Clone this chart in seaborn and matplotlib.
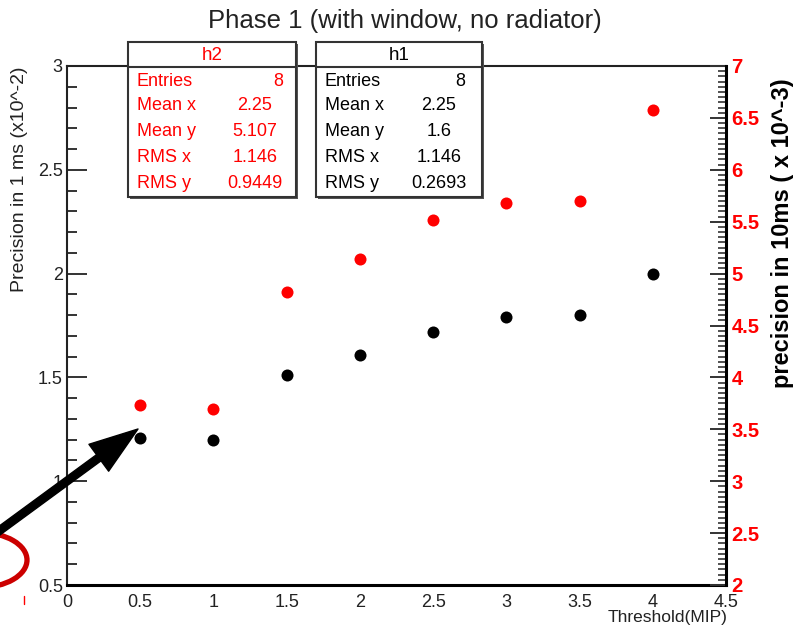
import matplotlib
matplotlib.use("Agg")
import matplotlib.pyplot as plt
import seaborn as sns
import numpy as np
from matplotlib.ticker import MultipleLocator, FuncFormatter
from matplotlib.patches import Rectangle, Ellipse

# data
threshold = [0.5, 1.0, 1.5, 2.0, 2.5, 3.0, 3.5, 4.0]
prec_1ms = [1.21, 1.20, 1.51, 1.61, 1.72, 1.79, 1.80, 2.00]      # black, left axis
prec_10ms = [3.73, 3.70, 4.82, 5.14, 5.52, 5.68, 5.70, 6.58]     # red, right axis

stat_names = ['Entries', 'Mean x', 'Mean y', 'RMS x', 'RMS y']
h1_values = ['8', '2.25', '1.6', '1.146', '0.2693']
h2_values = ['8', '2.25', '5.107', '1.146', '0.9449']

title = 'Phase 1 (with window, no radiator)'

sns.set_style('white')
plt.rcParams['font.family'] = ['Liberation Sans', 'DejaVu Sans']

W, H = 795, 631
fig = plt.figure(figsize=(W / 100, H / 100), dpi=100)
ax = fig.add_axes([67 / W, (H - 585) / H, 659 / W, 519 / H])
ax2 = ax.twinx()

sns.scatterplot(x=threshold, y=prec_1ms, ax=ax, color='black', s=75, linewidth=0, zorder=3)
sns.scatterplot(x=threshold, y=prec_10ms, ax=ax2, color='red', s=75, linewidth=0, zorder=3)

fmt = FuncFormatter(lambda v, p: '%g' % round(v, 3))

ax.set_xlim(0, 4.5)
ax.set_ylim(0.5, 3)
ax2.set_ylim(2, 7)

ax.xaxis.set_major_locator(MultipleLocator(0.5))
ax.xaxis.set_minor_locator(MultipleLocator(0.1))
ax.yaxis.set_major_locator(MultipleLocator(0.5))
ax.yaxis.set_minor_locator(MultipleLocator(0.1))
ax2.yaxis.set_major_locator(MultipleLocator(0.5))
ax2.yaxis.set_minor_locator(MultipleLocator(0.05))
ax.xaxis.set_major_formatter(fmt)
ax.yaxis.set_major_formatter(fmt)
ax2.yaxis.set_major_formatter(fmt)

tc = '#333333'
ax.tick_params(axis='y', which='major', direction='in', length=14.5, width=1.4, color=tc,
               labelsize=13, pad=3, right=False, labelcolor='#222222')
ax.tick_params(axis='y', which='minor', direction='in', length=7, width=1.4, color=tc, right=False)
ax.tick_params(axis='x', which='major', direction='in', length=11, width=1.4, color=tc,
               labelsize=13, pad=6.5, top=False, labelcolor='#222222')
ax.tick_params(axis='x', which='minor', direction='in', length=5, width=1.4, color=tc, top=False)
ax2.tick_params(axis='y', which='major', direction='in', length=11.5, width=1.4, color=tc,
                labelsize=14.5, labelcolor='red', pad=4)
ax2.tick_params(axis='y', which='minor', direction='in', length=5.8, width=1.2, color=tc)
plt.setp(ax2.get_yticklabels(), fontweight='bold')

for s in ['top', 'left']:
    ax.spines[s].set_color('#222222')
    ax.spines[s].set_linewidth(1.5)
ax.spines['bottom'].set_color('black')
ax.spines['bottom'].set_linewidth(2.2)
ax2.spines['right'].set_color('black')
ax2.spines['right'].set_linewidth(2.2)
for s in ['top', 'left', 'bottom']:
    ax2.spines[s].set_visible(False)
ax.spines['right'].set_visible(False)

ax.set_xlabel('Threshold(MIP)', fontsize=12.5, ha='right', color='#222222')
ax.xaxis.set_label_coords((728 - 67) / 659, (585 - 610) / 519)
ax.set_ylabel('Precision in 1 ms (x10^-2)', fontsize=14, color='#222222')
ax.yaxis.set_label_coords((28 - 67) / 659, (585 - 179) / 519)
ax2.set_ylabel('precision in 10ms ( x 10^-3)', fontsize=17, fontweight='bold', color='black')
ax2.yaxis.set_label_coords((771 - 67) / 659, (585 - 233) / 519)

fig.text(405 / W, 1 - 21 / H, title, ha='center', va='center', fontsize=18.5, color='#222222')

# overlay in pixel units for stat boxes and hand drawn marks
ov = fig.add_axes([0, 0, 1, 1], zorder=10)
ov.set_xlim(0, W)
ov.set_ylim(H, 0)
ov.axis('off')
ov.patch.set_alpha(0)


def stat_box(x0, x1, name, values, color, val_center, val_right):
    y0, y1 = 42, 197
    ov.add_patch(Rectangle((x0 + 2, y0 + 2), x1 - x0, y1 - y0, fc='#555555', ec='none'))
    ov.add_patch(Rectangle((x0, y0), x1 - x0, y1 - y0, fc='white', ec='#333333', lw=1.5))
    ov.plot([x0, x1], [67, 67], color='#333333', lw=1.5)
    ov.text((x0 + x1) / 2, 55, name, ha='center', va='center', fontsize=13.5, color=color)
    rows = [81, 106, 132, 157, 183]
    for i, (lab, val) in enumerate(zip(stat_names, values)):
        ov.text(x0 + 9, rows[i], lab, ha='left', va='center', fontsize=13, color=color)
        if i == 0:
            ov.text(val_right, rows[i], val, ha='right', va='center', fontsize=13, color=color)
        else:
            ov.text(val_center, rows[i], val, ha='center', va='center', fontsize=13, color=color)


stat_box(128, 296, 'h2', h2_values, 'red', 255, 283)
stat_box(316, 482, 'h1', h1_values, 'black', 439, 465)

# arrow pointing to the first black point
ov.annotate('', xy=(138, 429), xytext=(-12, 539), xycoords='data', textcoords='data',
            arrowprops=dict(width=5.5, headwidth=24, headlength=35, shrink=0, color='black'),
            annotation_clip=False)
ov.add_patch(Ellipse((-20, 560), 94, 55, fill=False, ec='#cc0000', lw=3.8, clip_on=False))
ov.plot([24, 24], [596, 604], color='red', lw=1)

fig.savefig('out.png', dpi=100)
